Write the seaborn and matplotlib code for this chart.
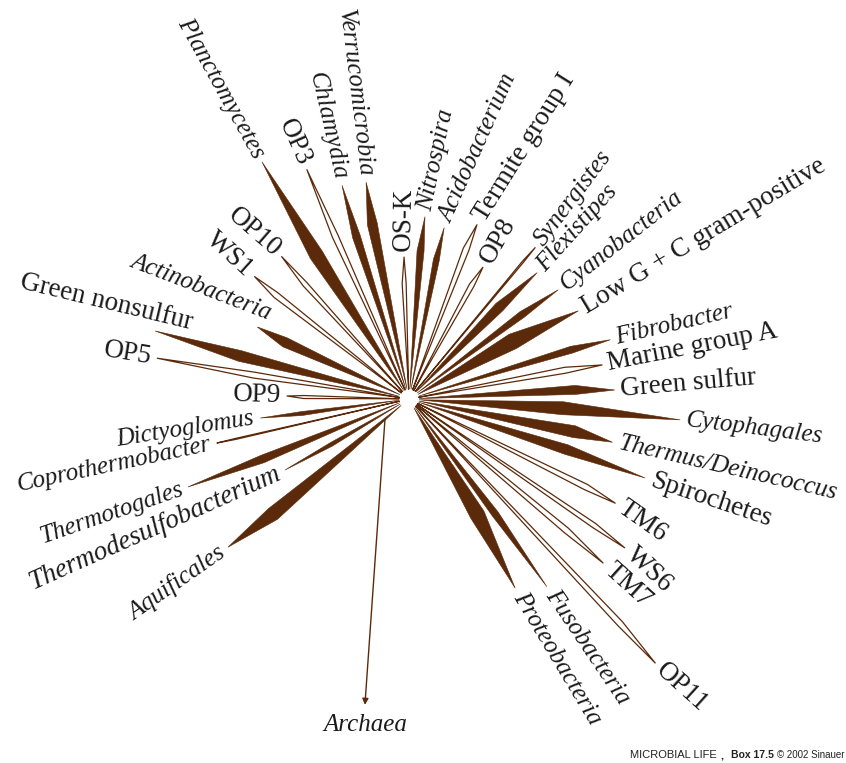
import numpy as np
import pandas as pd
import matplotlib
matplotlib.use("Agg")
import matplotlib.pyplot as plt
import seaborn as sns

# Bacterial lineages of the universal 16S rRNA tree, going round the root
clades = [
    "Planctomycetes", "OP3", "Chlamydia", "Verrucomicrobia", "OS-K", "Nitrospira",
    "Acidobacterium", "Termite group I", "OP8", "Synergistes", "Flexistipes",
    "Cyanobacteria", "Low G + C gram-positive", "Fibrobacter", "Marine group A",
    "Green sulfur", "Cytophagales", "Thermus/Deinococcus", "Spirochetes", "TM6",
    "WS6", "TM7", "OP11", "Fusobacteria", "Proteobacteria", "Aquificales",
    "Thermodesulfobacterium", "Thermotogales", "Coprothermobacter", "Dictyoglomus",
    "OP9", "OP5", "Green nonsulfur", "Actinobacteria", "WS1", "OP10",
]
# direction of each branch (degrees, counter-clockwise from east)
angles = [
    121.8, 114.0, 107.4, 101.2, 92.0, 85.0,
    78.4, 68.7, 60.7, 50.2, 44.6,
    36.2, 27.5, 16.4, 10.0,
    2.5, -4.4, -12.0, -18.5, -26.8,
    -34.6, -40.2, -47.0, -53.7, -60.7, 219.3,
    209.8, 201.7, 192.9, 187.3,
    178.6, 170.8, 165.0, 154.6, 141.6, 131.8,
]
# branch length (evolutionary distance, drawing units)
lengths = [
    279, 251, 224, 221, 142, 183,
    175, 187, 151, 197, 180,
    185, 191, 210, 196,
    206, 272, 208, 249, 231,
    262, 254, 361, 233, 217, 234,
    143, 238, 197, 150,
    122, 255, 263, 168, 197, 191,
]
# clade breadth (width of the wedge) and where along the branch it peaks
widths = [
    14, 6, 8, 10, 4, 7,
    6, 6, 5, 1.5, 10,
    7, 16, 7, 6,
    9, 13, 12, 10, 6,
    5, 6, 6, 7, 15, 14,
    4, 8, 1, 4,
    3, 6, 11, 10, 6, 5,
]
peaks = [
    0.6, 0.7, 0.75, 0.8, 0.8, 0.8,
    0.8, 0.85, 0.85, 0.9, 0.7,
    0.75, 0.6, 0.8, 0.8,
    0.8, 0.55, 0.8, 0.65, 0.85,
    0.85, 0.8, 0.85, 0.6, 0.6, 0.75,
    0.6, 0.65, 0.9, 0.7,
    0.85, 0.6, 0.65, 0.8, 0.85, 0.8,
]
# cultivated divisions are drawn solid, environmental-only ones hollow
filled = [
    1, 0, 1, 1, 0, 1,
    1, 0, 0, 0, 1,
    1, 1, 1, 0,
    1, 1, 1, 1, 0,
    0, 0, 0, 1, 1, 1,
    1, 1, 0, 1,
    0, 0, 1, 1, 0, 0,
]
italic = [
    1, 0, 1, 1, 0, 1,
    1, 0, 0, 1, 1,
    1, 0, 1, 0,
    0, 1, 1, 0, 0,
    0, 0, 0, 1, 1, 1,
    1, 1, 1, 1,
    0, 0, 0, 1, 0, 0,
]
outgroup = "Archaea"
outgroup_angle = -98.2
outgroup_length = 309

# label layout: on-screen rotation where it departs from the branch direction
label_rotation = {
    "Planctomycetes": -61, "Chlamydia": -77, "Verrucomicrobia": -83,
    "OS-K": 89, "Nitrospira": 78, "Acidobacterium": 66, "Termite group I": 58,
    "Synergistes": 53, "Flexistipes": 48, "Cyanobacteria": 38, "Low G + C gram-positive": 31,
    "Fibrobacter": 13, "Marine group A": 11, "Green sulfur": 5, "Cytophagales": -7,
    "Thermus/Deinococcus": -13, "TM6": -35, "WS6": -43, "TM7": -42, "OP11": -42,
    "Fusobacteria": -56, "Proteobacteria": -59, "Aquificales": 35,
    "Thermodesulfobacterium": 24, "Thermotogales": 19, "Coprothermobacter": 12,
    "Dictyoglomus": 9, "Green nonsulfur": -13.5, "Actinobacteria": -21,
    "WS1": -42, "OP10": -41,
}
# label anchor (radius, angle about the root) where it is not at the branch tip
label_anchor = {
    "Green nonsulfur": (230, 160.8),
    "Actinobacteria": (163, 148.5),
}
label_size = {"Thermodesulfobacterium": 19.5}

BROWN = "#5b2a0b"
CENTER = np.array([409.0, 399.0])
ROOT_R = 10.0
GAP = 6.0

sns.set_theme(style="white")
plt.rcParams["font.family"] = ["Liberation Serif", "DejaVu Serif"]

fig = plt.figure(figsize=(8.46, 7.63), dpi=100)
ax = fig.add_axes([0, 0, 1, 1])


def unit(deg):
    r = np.deg2rad(deg)
    return np.array([np.cos(r), -np.sin(r)])


rows = []
label_specs = []
for i, name in enumerate(clades):
    u = unit(angles[i])
    root = CENTER + ROOT_R * u
    tip = CENTER + lengths[i] * u
    d = tip - root
    L = np.hypot(*d)
    d = d / L
    nrm = np.array([d[1], -d[0]])
    mid = root + peaks[i] * L * d
    a = mid + 0.7 * widths[i] * nrm
    b = mid - 0.3 * widths[i] * nrm
    poly = np.array([root, a, tip, b])
    if filled[i]:
        ax.fill(poly[:, 0], poly[:, 1], color=BROWN, ec=BROWN, lw=0.4, zorder=2)
    else:
        for x, y in np.vstack([poly, poly[:1]]):
            rows.append((name, x, y))
    label_specs.append((name, tip, d, italic[i]))

outline = pd.DataFrame(rows, columns=["clade", "x", "y"])
sns.lineplot(data=outline, x="x", y="y", units="clade", estimator=None,
             sort=False, color=BROWN, lw=0.9, legend=False, ax=ax, zorder=2)

# root of the tree: arrow towards the archaeal outgroup
u = unit(outgroup_angle)
a_root = CENTER + np.array([-24.0, 20.0])
a_tip = CENTER + outgroup_length * u
ax.annotate("", xy=a_tip, xytext=a_root,
            arrowprops=dict(arrowstyle="-|>", color=BROWN, lw=1.0,
                            mutation_scale=9, shrinkA=0, shrinkB=0))
ax.text(a_tip[0], a_tip[1] + 20, outgroup, fontsize=18, style="italic",
        ha="center", va="center", color="#1a1a1a")

for name, tip, d, it in label_specs:
    phi = np.degrees(np.arctan2(-d[1], d[0]))
    if name in label_anchor:
        r, ang = label_anchor[name]
        pos = CENTER + r * unit(ang)
    else:
        pos = tip + GAP * d
    if name in label_rotation:
        rot = label_rotation[name]
    else:
        rot = phi if -95 < phi <= 91 else (phi - 180 if phi > 0 else phi + 180)
    diff = (rot - phi + 180) % 360 - 180
    ha = "left" if abs(diff) < 90 else "right"
    size = label_size.get(name, 18 if it else 19.5)
    ax.text(pos[0], pos[1], name, rotation=rot, rotation_mode="anchor",
            ha=ha, va="center", fontsize=size,
            style="italic" if it else "normal", color="#1a1a1a")

# credit line
cap = dict(family=["Liberation Sans", "DejaVu Sans"], va="baseline", color="#222222")
ax.text(630, 758, "MICROBIAL LIFE", fontsize=8, **cap)
ax.text(720, 758, ",", fontsize=8, fontweight="bold", **cap)
ax.text(731, 758, "Box 17.5", fontsize=7.5, fontweight="bold", **cap)
ax.text(777, 758, "\u00a9 2002 Sinauer Associates", fontsize=7, **cap)

ax.set_xlim(0, 846)
ax.set_ylim(763, 0)
ax.axis("off")
fig.savefig("out.png", dpi=100)
